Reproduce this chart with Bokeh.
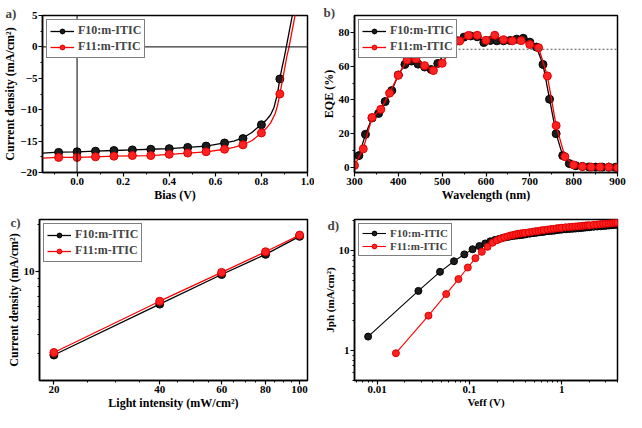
from bokeh.plotting import figure
from bokeh.layouts import column, row
from bokeh.models import Span, Label, FixedTicker, CustomJSTickFormatter
from bokeh.embed import file_html
from bokeh.resources import INLINE

# ---------------- data ----------------
# a) J-V
bias_pts = [-0.08, 0.0, 0.08, 0.16, 0.24, 0.32, 0.40, 0.48, 0.56, 0.64, 0.72, 0.80, 0.88]
j_f10_pts = [-16.8, -16.7, -16.6, -16.5, -16.4, -16.3, -16.2, -16.0, -15.8, -15.3, -14.6, -12.4, -5.1]
j_f11_pts = [-17.6, -17.6, -17.5, -17.4, -17.3, -17.3, -17.1, -16.9, -16.7, -16.3, -15.6, -13.7, -7.5]
bias_line_f10 = [-0.15, -0.08, 0.0, 0.08, 0.16, 0.24, 0.32, 0.40, 0.48, 0.56, 0.64, 0.68, 0.72, 0.76,
                 0.80, 0.82, 0.84, 0.855, 0.87, 0.88, 0.89, 0.90, 0.908, 0.92, 0.934, 0.945]
j_line_f10 = [-16.9, -16.75, -16.7, -16.6, -16.5, -16.4, -16.3, -16.2, -16.0, -15.8, -15.3, -15.0, -14.5, -13.6,
              -12.3, -11.7, -10.8, -9.6, -7.4, -5.05, -3.2, -1.5, 0.0, 2.3, 5.0, 7.0]
bias_line_f11 = [-0.15, -0.08, 0.0, 0.08, 0.16, 0.24, 0.32, 0.40, 0.48, 0.56, 0.64, 0.68, 0.72, 0.76,
                 0.80, 0.82, 0.84, 0.86, 0.87, 0.88, 0.89, 0.90, 0.91, 0.92, 0.933, 0.946, 0.955]
j_line_f11 = [-17.7, -17.6, -17.6, -17.5, -17.4, -17.35, -17.3, -17.1, -16.9, -16.7, -16.3, -16.0, -15.6, -14.9,
              -13.7, -13.0, -12.1, -10.6, -9.3, -7.5, -5.6, -3.6, -1.6, 0.0, 2.5, 5.0, 7.0]

# b) EQE
wl_f10 = [310, 325, 340, 355, 370, 385, 400, 415, 430, 445, 460, 475, 490, 505, 520, 535, 550, 565, 580, 595,
          610, 625, 640, 655, 670, 685, 700, 715, 730, 745, 760, 775, 790, 805, 820, 835, 850, 865, 880, 895]
eqe_f10 = [7.0, 19.6, 29.3, 32.0, 39.0, 45.5, 54.8, 61.0, 63.0, 61.2, 59.5, 58.0, 61.6, 67.2, 71.4, 75.0, 77.2, 77.9, 77.4, 74.0,
           75.2, 75.0, 75.0, 75.2, 76.0, 76.5, 74.2, 71.3, 61.0, 40.4, 20.0, 7.0, 2.3, 1.0, 0.6, 0.3, 0.2, 0.2, 0.2, 0.1]
wl_f11 = [300, 320, 340, 360, 380, 400, 420, 440, 460, 480, 500, 520, 540, 560, 580, 600, 620, 640, 660, 680,
          700, 720, 740, 760, 780, 800, 820, 840, 860, 880, 900]
eqe_f11 = [1.2, 11.0, 29.6, 34.4, 44.0, 54.6, 63.6, 64.3, 60.3, 57.4, 61.7, 69.5, 74.9, 78.2, 78.3, 75.3, 78.3, 75.7, 75.0, 75.1,
           72.8, 70.9, 54.2, 24.8, 6.4, 1.5, 0.5, 0.2, 0.2, 0.2, -0.2]

# c) light intensity
light = [20, 40, 60, 80, 100]
jsc_f10 = [2.95, 6.22, 9.6, 12.9, 16.8]
jsc_f11 = [3.06, 6.49, 9.9, 13.4, 17.1]

# d) Jph vs Veff
veff_f10 = [0.008, 0.028, 0.048, 0.068, 0.088, 0.108, 0.128, 0.148, 0.168, 0.188, 0.208, 0.228, 0.248, 0.268,
            0.288, 0.308, 0.328, 0.348, 0.368, 0.388, 0.408, 0.448, 0.488, 0.528, 0.568, 0.608, 0.648, 0.708,
            0.768, 0.828, 0.888, 0.948, 1.008, 1.108, 1.208, 1.308, 1.408, 1.508, 1.608, 1.708, 1.808, 1.908,
            2.008, 2.208, 2.408, 2.608, 2.808, 3.008, 3.208, 3.408, 3.608, 3.808, 3.988]
jph_f10 = [1.38, 3.97, 6.17, 7.88, 9.24, 10.4, 11.2, 11.9, 12.5, 12.9, 13.2, 13.5, 13.7, 13.9,
           14.1, 14.2, 14.3, 14.4, 14.5, 14.6, 14.7, 14.9, 15.1, 15.2, 15.4, 15.5, 15.6, 15.8,
           15.9, 16.0, 16.2, 16.3, 16.4, 16.5, 16.6, 16.7, 16.8, 16.9, 17.0, 17.1, 17.2, 17.3,
           17.3, 17.5, 17.6, 17.7, 17.8, 17.9, 18.0, 18.1, 18.2, 18.3, 18.3]
veff_f11 = [0.016, 0.036, 0.056, 0.076, 0.096, 0.116, 0.136, 0.157, 0.178, 0.198, 0.218, 0.238, 0.258, 0.278,
            0.298, 0.318, 0.338, 0.358, 0.378, 0.398, 0.438, 0.478, 0.518, 0.558, 0.598, 0.638, 0.698, 0.758,
            0.818, 0.878, 0.938, 0.998, 1.098, 1.198, 1.298, 1.398, 1.498, 1.598, 1.698, 1.798, 1.898, 1.998,
            2.198, 2.398, 2.598, 2.798, 2.998, 3.198, 3.398, 3.598, 3.798, 3.998]
jph_f11 = [0.94, 2.24, 3.69, 5.22, 6.82, 8.47, 9.8, 11.0, 12.1, 12.8, 13.3, 13.7, 14.0, 14.3,
           14.5, 14.7, 14.9, 15.0, 15.1, 15.2, 15.4, 15.6, 15.8, 15.9, 16.1, 16.2, 16.4, 16.6,
           16.7, 16.9, 17.0, 17.1, 17.3, 17.4, 17.5, 17.6, 17.7, 17.8, 17.9, 18.0, 18.1, 18.1,
           18.3, 18.4, 18.6, 18.7, 18.8, 18.9, 19.0, 19.1, 19.2, 19.3]

labels = ["F10:m-ITIC", "F11:m-ITIC"]

# ---------------- style ----------------
FONT = "Liberation Serif"
BLACK_FILL, BLACK_LINE = "#1c1c1c", "#000000"
RED_FILL, RED_LINE = "#ff2222", "#e00000"


def make_fig(width, height, left, right, top, bottom, **kw):
    p = figure(width=width, height=height, output_backend="svg", toolbar_location=None,
               min_border_left=left, min_border_right=right, min_border_top=top,
               min_border_bottom=bottom, **kw)
    p.grid.visible = False
    p.outline_line_color = "black"
    p.outline_line_width = 1.5
    p.background_fill_color = "white"
    p.border_fill_color = "white"
    for ax in p.axis:
        ax.axis_line_width = 1.5
        ax.major_tick_line_width = 1.2
        ax.minor_tick_line_width = 1
        ax.major_tick_out = 4
        ax.major_tick_in = 0
        ax.minor_tick_out = 2
        ax.minor_tick_in = 0
        ax.major_label_text_font = FONT
        ax.major_label_text_font_style = "bold"
        ax.major_label_text_font_size = "11px"
        ax.major_label_text_color = "black"
        ax.axis_label_text_font = FONT
        ax.axis_label_text_font_style = "bold"
        ax.axis_label_text_font_size = "12px"
        ax.axis_label_text_color = "black"
        ax.axis_label_standoff = 0
        ax.major_label_standoff = 1
    return p


def style_legend(p, font_size="12px"):
    lg = p.legend[0]
    lg.location = "top_left"
    lg.margin = 4
    lg.padding = 3
    lg.spacing = 1
    lg.glyph_width = 24
    lg.glyph_height = 12
    lg.label_height = 12
    lg.label_standoff = 4
    lg.label_text_font = FONT
    lg.label_text_font_style = "bold"
    lg.label_text_font_size = font_size
    lg.border_line_color = "black"
    lg.border_line_width = 1
    lg.background_fill_alpha = 1


def panel_label(p, text, x, y):
    # placed in the top side panel so that it is drawn outside the clipped frame
    p.add_layout(Label(x=x, y=y, x_units="screen", y_units="screen", text=text,
                       text_font=FONT, text_font_style="bold", text_font_size="13px",
                       text_baseline="middle"), "above")


js_fmt = "return String(tick);"

# ---------------- a ----------------
pa = make_fig(314, 204, 39, 7, 0, 26, x_range=(-0.15, 1.0), y_range=(-20, 5))
pa.add_layout(Span(location=0, dimension="width", line_color="black", line_width=1))
pa.add_layout(Span(location=0, dimension="height", line_color="black", line_width=1))
pa.line(bias_line_f10, j_line_f10, line_color="black", line_width=1.3, legend_label=labels[0])
pa.scatter(bias_pts, j_f10_pts, size=8, fill_color=BLACK_FILL, line_color=BLACK_LINE, legend_label=labels[0])
pa.line(bias_line_f11, j_line_f11, line_color="red", line_width=1.3, legend_label=labels[1])
pa.scatter(bias_pts, j_f11_pts, size=8, fill_color=RED_FILL, line_color=RED_LINE, legend_label=labels[1])
pa.xaxis.ticker = FixedTicker(ticks=[0.0, 0.2, 0.4, 0.6, 0.8, 1.0],
                              minor_ticks=[-0.1, 0.1, 0.3, 0.5, 0.7, 0.9])
pa.yaxis.ticker = FixedTicker(ticks=[-20, -15, -10, -5, 0, 5],
                              minor_ticks=[-17.5, -12.5, -7.5, -2.5, 2.5])
pa.xaxis.formatter = CustomJSTickFormatter(code="return tick.toFixed(1);")
pa.xaxis.axis_label = "Bias (V)"
pa.yaxis.axis_label = "Current density (mA/cm²)"
style_legend(pa)
panel_label(pa, "a)", -37, 2)

# ---------------- b ----------------
pb = make_fig(312, 204, 40, 9, 0, 26, x_range=(300, 900), y_range=(-3, 90))
pb.add_layout(Span(location=70, dimension="width", line_color="#555555", line_width=1, line_dash="2 2"))
pb.line(wl_f10, eqe_f10, line_color="black", line_width=1.3, legend_label=labels[0])
pb.scatter(wl_f10, eqe_f10, size=8, fill_color=BLACK_FILL, line_color=BLACK_LINE, legend_label=labels[0])
pb.line(wl_f11, eqe_f11, line_color="red", line_width=1.3, legend_label=labels[1])
pb.scatter(wl_f11, eqe_f11, size=8, fill_color=RED_FILL, line_color=RED_LINE, legend_label=labels[1])
pb.xaxis.ticker = FixedTicker(ticks=[300, 400, 500, 600, 700, 800, 900],
                              minor_ticks=[350, 450, 550, 650, 750, 850])
pb.yaxis.ticker = FixedTicker(ticks=[0, 20, 40, 60, 80], minor_ticks=[10, 30, 50, 70])
pb.xaxis.axis_label = "Wavelength (nm)"
pb.yaxis.axis_label = "EQE (%)"
style_legend(pb)
panel_label(pb, "b)", -31, 3)

# ---------------- c ----------------
pc = make_fig(314, 208, 39, 7, 0, 26, x_axis_type="log", y_axis_type="log",
              x_range=(18.2, 105.3), y_range=(2.03, 21.5))
pc.line(light, jsc_f10, line_color="black", line_width=1.3, legend_label=labels[0])
pc.scatter(light, jsc_f10, size=8, fill_color=BLACK_FILL, line_color=BLACK_LINE, legend_label=labels[0])
pc.line(light, jsc_f11, line_color="red", line_width=1.3, legend_label=labels[1])
pc.scatter(light, jsc_f11, size=8, fill_color=RED_FILL, line_color=RED_LINE, legend_label=labels[1])
pc.xaxis.ticker = FixedTicker(ticks=[20, 40, 60, 80, 100],
                              minor_ticks=[25, 30, 35, 45, 50, 55, 65, 70, 75, 85, 90, 95])
pc.yaxis.ticker = FixedTicker(ticks=[10], minor_ticks=[3, 4, 5, 6, 7, 8, 9, 20])
pc.xaxis.formatter = CustomJSTickFormatter(code=js_fmt)
pc.yaxis.formatter = CustomJSTickFormatter(code=js_fmt)
pc.xaxis.axis_label = "Light intensity (mW/cm²)"
pc.yaxis.axis_label = "Current density (mA/cm²)"
style_legend(pc)
panel_label(pc, "c)", -29, -3)

# ---------------- d ----------------
pd_ = make_fig(312, 208, 40, 9, 0, 26, x_axis_type="log", y_axis_type="log",
               x_range=(0.0057, 4.0), y_range=(0.5, 20.7))
pd_.line(veff_f10, jph_f10, line_color="black", line_width=1.1, legend_label=labels[0])
pd_.scatter(veff_f10, jph_f10, size=7, fill_color=BLACK_FILL, line_color=BLACK_LINE, legend_label=labels[0])
pd_.line(veff_f11, jph_f11, line_color="red", line_width=1.1, legend_label=labels[1])
pd_.scatter(veff_f11, jph_f11, size=7, fill_color=RED_FILL, line_color=RED_LINE, legend_label=labels[1])
pd_.xaxis.ticker = FixedTicker(ticks=[0.01, 0.1, 1],
                               minor_ticks=[0.006, 0.007, 0.008, 0.009, 0.02, 0.03, 0.04, 0.05, 0.06, 0.07,
                                            0.08, 0.09, 0.2, 0.3, 0.4, 0.5, 0.6, 0.7, 0.8, 0.9, 2, 3, 4])
pd_.yaxis.ticker = FixedTicker(ticks=[1, 10],
                               minor_ticks=[0.5, 0.6, 0.7, 0.8, 0.9, 2, 3, 4, 5, 6, 7, 8, 9, 20])
pd_.xaxis.formatter = CustomJSTickFormatter(code=js_fmt)
pd_.yaxis.formatter = CustomJSTickFormatter(code=js_fmt)
pd_.xaxis.axis_label = "Veff (V)"
pd_.yaxis.axis_label = "Jph (mA/cm²)"
for ax in pd_.axis:
    ax.axis_label_text_font_size = "11px"
style_legend(pd_, "11px")
panel_label(pd_, "d)", -27, -6)

layout = column(row(pa, pb), row(pc, pd_))
open("out.html", "w").write(file_html(layout, INLINE))
